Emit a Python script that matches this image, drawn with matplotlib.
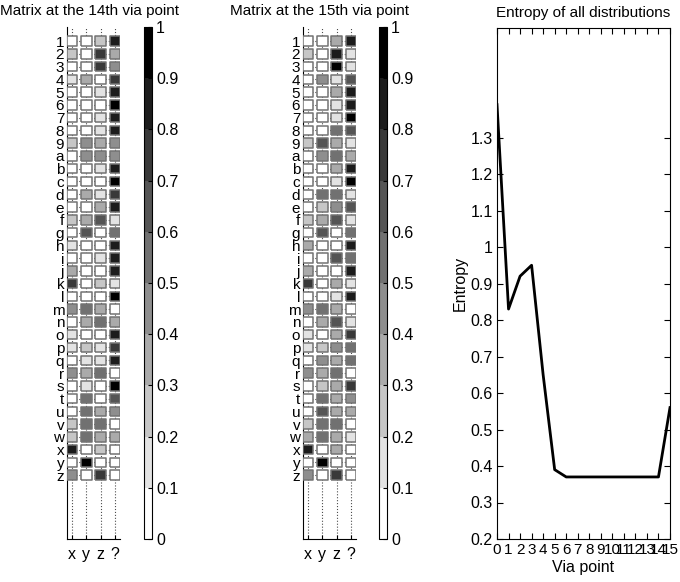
import numpy as np
import matplotlib
matplotlib.use('Agg')
import matplotlib.pyplot as plt
from matplotlib.colors import ListedColormap

plt.rcParams['font.family'] = ['Liberation Sans', 'DejaVu Sans']

row_labels = list('123456789abcdefghijklmnopqrstuvwxyz')
col_labels = ['x', 'y', 'z', '?']

# 14th via point, columns x, y, z, ?
m14 = [
    [0.05, 0.05, 0.2, 0.85],   # 1
    [0.2, 0.05, 0.7, 0.3],     # 2
    [0.05, 0.05, 0.7, 0.4],    # 3
    [0.15, 0.3, 0.05, 0.7],    # 4
    [0.05, 0.05, 0.15, 0.85],  # 5
    [0.05, 0.05, 0.05, 0.95],  # 6
    [0.05, 0.05, 0.15, 0.85],  # 7
    [0.05, 0.05, 0.15, 0.85],  # 8
    [0.2, 0.4, 0.3, 0.4],      # 9
    [0.05, 0.4, 0.4, 0.4],     # a
    [0.05, 0.05, 0.15, 0.85],  # b
    [0.05, 0.05, 0.05, 0.95],  # c
    [0.05, 0.3, 0.15, 0.7],    # d
    [0.05, 0.05, 0.3, 0.8],    # e
    [0.2, 0.3, 0.6, 0.15],     # f
    [0.05, 0.65, 0.05, 0.5],   # g
    [0.15, 0.05, 0.05, 0.85],  # h
    [0.05, 0.05, 0.15, 0.85],  # i
    [0.3, 0.05, 0.05, 0.8],    # j
    [0.7, 0.05, 0.25, 0.15],   # k
    [0.05, 0.05, 0.05, 0.95],  # l
    [0.4, 0.5, 0.3, 0.05],     # m
    [0.05, 0.3, 0.55, 0.3],    # n
    [0.15, 0.05, 0.05, 0.85],  # o
    [0.15, 0.2, 0.15, 0.7],    # p
    [0.05, 0.15, 0.15, 0.8],   # q
    [0.4, 0.3, 0.5, 0.05],     # r
    [0.05, 0.15, 0.05, 0.9],   # s
    [0.05, 0.5, 0.05, 0.6],    # t
    [0.05, 0.5, 0.3, 0.4],     # u
    [0.2, 0.5, 0.5, 0.05],     # v
    [0.2, 0.5, 0.3, 0.3],      # w
    [0.8, 0.05, 0.25, 0.05],   # x
    [0.05, 0.95, 0.05, 0.05],  # y
    [0.4, 0.05, 0.7, 0.05],    # z
]

# 15th via point
m15 = [
    [0.05, 0.05, 0.35, 0.8],   # 1
    [0.2, 0.05, 0.85, 0.15],   # 2
    [0.05, 0.05, 0.9, 0.15],   # 3
    [0.05, 0.45, 0.15, 0.65],  # 4
    [0.05, 0.05, 0.3, 0.8],    # 5
    [0.05, 0.05, 0.15, 0.85],  # 6
    [0.05, 0.05, 0.15, 0.9],   # 7
    [0.05, 0.05, 0.55, 0.65],  # 8
    [0.2, 0.6, 0.3, 0.15],     # 9
    [0.05, 0.45, 0.55, 0.3],   # a
    [0.05, 0.05, 0.3, 0.8],    # b
    [0.05, 0.05, 0.15, 0.9],   # c
    [0.05, 0.5, 0.5, 0.15],    # d
    [0.05, 0.2, 0.4, 0.6],     # e
    [0.2, 0.3, 0.6, 0.15],     # f
    [0.05, 0.65, 0.05, 0.5],   # g
    [0.3, 0.05, 0.05, 0.85],   # h
    [0.05, 0.05, 0.65, 0.5],   # i
    [0.3, 0.05, 0.05, 0.8],    # j
    [0.7, 0.05, 0.3, 0.15],    # k
    [0.05, 0.05, 0.15, 0.85],  # l
    [0.4, 0.5, 0.3, 0.05],     # m
    [0.05, 0.35, 0.6, 0.15],   # n
    [0.15, 0.05, 0.3, 0.7],    # o
    [0.15, 0.2, 0.4, 0.55],    # p
    [0.05, 0.4, 0.3, 0.55],    # q
    [0.4, 0.3, 0.55, 0.05],    # r
    [0.05, 0.2, 0.3, 0.7],     # s
    [0.05, 0.5, 0.3, 0.4],     # t
    [0.05, 0.6, 0.3, 0.3],     # u
    [0.2, 0.5, 0.55, 0.05],    # v
    [0.3, 0.5, 0.3, 0.15],     # w
    [0.8, 0.05, 0.3, 0.05],    # x
    [0.05, 0.95, 0.05, 0.05],  # y
    [0.4, 0.05, 0.7, 0.05],    # z
]

via_points = list(range(16))
entropy = [1.39, 0.83, 0.92, 0.95, 0.65, 0.39, 0.37, 0.37, 0.37, 0.37,
           0.37, 0.37, 0.37, 0.37, 0.37, 0.56]

# 10 gray levels, white -> black
grays = ListedColormap([str(1 - k / 9) for k in range(10)])

# slightly wide box marker for the matrix cells
cell = [(-0.55, -0.5), (0.55, -0.5), (0.55, 0.5), (-0.55, 0.5), (-0.55, -0.5)]

W, H = 680, 582
fig = plt.figure(figsize=(W / 100, H / 100), dpi=100)


def px_axes(left, right, top, bottom):
    return fig.add_axes([left / W, 1 - bottom / H, (right - left) / W, (bottom - top) / H])


def matrix_panel(ax, cax, mat, title, title_x):
    mat = np.array(mat)
    nr, nc = mat.shape
    cols, rows = np.meshgrid(np.arange(1, nc + 1), np.arange(1, nr + 1))
    ax.set_axisbelow(True)
    sc = ax.scatter(cols.ravel(), rows.ravel(), c=mat.ravel(), cmap=grays,
                    vmin=0, vmax=1, marker=cell, s=56, edgecolors='0.45',
                    linewidths=1.1, zorder=3)
    ax.set_xlim(0.65, 4.35)
    ax.set_ylim(40, -0.1)
    ax.set_xticks(range(1, nc + 1))
    ax.set_xticklabels(col_labels, fontsize=11.5)
    ax.set_yticks(range(1, nr + 1))
    ax.set_yticklabels(row_labels, fontsize=11)
    ax.tick_params(direction='in', length=3, width=0.8, pad=2)
    ax.tick_params(axis='x', pad=6)
    ax.grid(True, linestyle=':', color='0.3', linewidth=0.8)
    ax.spines['top'].set_visible(False)
    ax.spines['right'].set_visible(False)
    fig.text(title_x / W, 1 - 11 / H, title, ha='center', va='center', fontsize=11)

    cb = fig.colorbar(sc, cax=cax, ticks=np.linspace(0, 1, 11))
    cb.ax.set_yticklabels(['0', '0.1', '0.2', '0.3', '0.4', '0.5', '0.6', '0.7',
                           '0.8', '0.9', '1'])
    cb.ax.tick_params(direction='in', length=3, width=0.8, labelsize=11.5, pad=3)
    cb.outline.set_linewidth(0.8)


ax1 = px_axes(67, 120, 27, 539)
cax1 = px_axes(144, 152, 27, 539)
matrix_panel(ax1, cax1, m14, 'Matrix at the 14th via point', 90)

ax2 = px_axes(303, 356, 27, 539)
cax2 = px_axes(379, 387, 27, 539)
matrix_panel(ax2, cax2, m15, 'Matrix at the 15th via point', 320)

ax3 = px_axes(497, 670, 28, 539)
ax3.plot(via_points, entropy, color='black', linewidth=2.0)
ax3.set_xlim(0, 15)
ax3.set_ylim(0.2, 1.6)
ax3.set_xticks(via_points)
ax3.set_yticks(np.round(np.arange(0.2, 1.31, 0.1), 1))
ax3.set_yticklabels(['0.2', '0.3', '0.4', '0.5', '0.6', '0.7', '0.8', '0.9',
                     '1', '1.1', '1.2', '1.3'])
ax3.tick_params(direction='in', length=4, width=0.8, labelsize=11.5,
                top=True, right=True, pad=3)
ax3.tick_params(axis='x', labelsize=11)
ax3.set_xlabel('Via point', fontsize=11.5, labelpad=2)
ax3.set_ylabel('Entropy', fontsize=11.5, labelpad=2)
ax3.set_title('Entropy of all distributions', fontsize=11, pad=8)

fig.savefig('out.png', dpi=100)
